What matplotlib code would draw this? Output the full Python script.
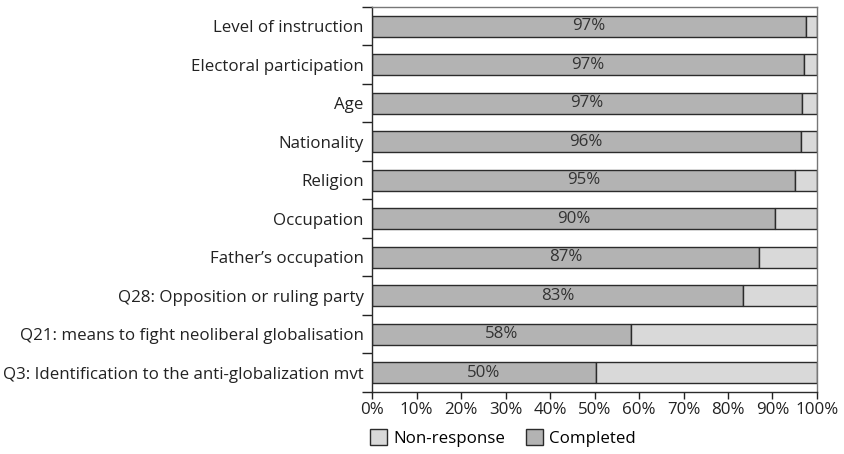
#!/usr/bin/env python3
"""Response completeness by survey item, stacked horizontal bars."""

import matplotlib

matplotlib.use("Agg")
import matplotlib.pyplot as plt
import numpy as np

ITEMS = [
    "Level of instruction",
    "Electoral participation",
    "Age",
    "Nationality",
    "Religion",
    "Occupation",
    "Father\u2019s occupation",
    "Q28: Opposition or ruling party",
    "Q21: means to fight neoliberal globalisation",
    "Q3: Identification to the anti-globalization mvt",
]
COMPLETED = [97.5, 97.1, 96.6, 96.3, 95.1, 90.6, 86.9, 83.4, 58.2, 50.3]
LABELS = ["97%", "97%", "97%", "96%", "95%", "90%", "87%", "83%", "58%", "50%"]


def main() -> None:
    plt.rcParams["font.family"] = ["Open Sans", "DejaVu Sans"]
    plt.rcParams["font.size"] = 12.2
    edge = "#2b2b2b"

    fig = plt.figure(figsize=(8.44, 4.54), dpi=100)
    ax = fig.add_axes([0.4408, 0.1366, 0.968 - 0.4408, 0.9846 - 0.1366])

    completed = np.array(COMPLETED)
    nonresp = 100 - completed
    y = np.arange(len(ITEMS))[::-1]

    ax.barh(y, completed, height=0.55, color="#b3b3b3", edgecolor=edge, linewidth=1.0, label="Completed")
    ax.barh(y, nonresp, left=completed, height=0.55, color="#d9d9d9", edgecolor=edge, linewidth=1.0,
            label="Non-response")
    for yi, c, lab in zip(y, completed, LABELS):
        ax.text(c / 2, yi, lab, ha="center", va="center", color="#333333")

    ax.set_xlim(0, 100)
    ax.set_ylim(-0.5, len(ITEMS) - 0.5)
    ax.set_xticks(np.arange(0, 101, 10))
    ax.set_xticklabels([f"{v}%" for v in range(0, 101, 10)])
    ax.set_yticks(y)
    ax.set_yticklabels(ITEMS)
    ax.tick_params(axis="y", which="major", length=0, pad=6)
    ax.set_yticks(np.arange(-0.5, len(ITEMS), 1.0), minor=True)
    ax.tick_params(axis="y", which="minor", length=7, width=1.0, color=edge)
    ax.tick_params(axis="x", length=5, width=1.0, color=edge, pad=2)
    ax.tick_params(colors="#222222", which="both")
    for side in ["left", "bottom"]:
        ax.spines[side].set_color(edge)
        ax.spines[side].set_linewidth(1.0)
    for side in ["top", "right"]:
        ax.spines[side].set_color("#777777")
        ax.spines[side].set_linewidth(1.0)

    handles, labels = ax.get_legend_handles_labels()
    fig.legend(handles[::-1], labels[::-1], loc="center", bbox_to_anchor=(0.596, 0.035), ncol=2, frameon=False,
               handlelength=1.0, handleheight=1.0, handletextpad=0.4, columnspacing=1.2)

    fig.savefig("out.png", dpi=100)
    plt.close(fig)


if __name__ == "__main__":
    main()
